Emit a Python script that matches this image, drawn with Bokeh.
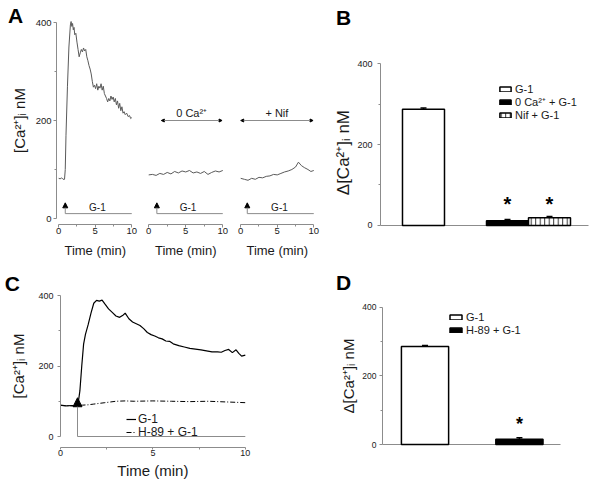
import math
from bokeh.plotting import figure
from bokeh.models import (Range1d, FixedTicker, Label, Arrow, NormalHead, TeeHead,
                          Whisker, ColumnDataSource, Legend, LegendItem, CDSView, IndexFilter)
from bokeh.layouts import row, column
from bokeh.embed import file_html
from bokeh.resources import INLINE

FONT = "Liberation Sans"
AXC = "#8c8c8c"
TXT = "#1a1a1a"
TRACE = "#5a5a5a"

# ---------------- data ----------------
# Panel A, G-1 in normal buffer
a1_time = [0.0, 0.2, 0.4, 0.6, 0.8, 0.9, 1.0, 1.2, 1.4, 1.6, 1.7, 1.8, 1.9, 2.0, 2.1, 2.2,
           2.35, 2.5, 2.65, 2.8, 2.95, 3.1, 3.25, 3.4, 3.55, 3.7, 3.85, 4.0, 4.15, 4.3, 4.45,
           4.6, 4.75, 4.9, 5.05, 5.2, 5.35, 5.5, 5.65, 5.8, 5.95, 6.1, 6.25, 6.4, 6.55, 6.7,
           6.85, 7.0, 7.15, 7.3, 7.45, 7.6, 7.75, 7.9, 8.05, 8.2, 8.35, 8.5, 8.65, 8.8, 8.95,
           9.1, 9.3, 9.5, 9.7, 9.85, 10.0]
a1_ca = [82, 81, 83, 80, 80, 100, 170, 270, 350, 395, 402, 392, 398, 385, 390, 375,
         378, 360, 345, 330, 338, 345, 340, 348, 342, 345, 330, 322, 312, 305, 295,
         280, 268, 272, 265, 275, 262, 270, 266, 275, 262, 270, 255, 250, 245, 238,
         245, 240, 250, 243, 248, 238, 245, 232, 240, 225, 235, 220, 228, 215, 218,
         212, 215, 208, 210, 204, 206]
# Panel A, 0 Ca2+
a2_time = [0, 0.5, 1, 1.5, 2, 2.5, 3, 3.5, 4, 4.5, 5, 5.5, 6, 6.5, 7, 7.5, 8, 8.5, 9, 9.5, 10]
a2_ca = [89, 90, 88, 92, 90, 94, 91, 96, 93, 97, 95, 98, 93, 95, 92, 96, 90, 94, 97, 95, 98]
# Panel A, + Nif
a3_time = [0, 0.5, 1, 1.5, 2, 2.5, 3, 3.5, 4, 4.5, 5, 5.5, 6, 6.5, 7, 7.5, 7.9, 8.3, 8.7,
           9.2, 9.6, 10]
a3_ca = [82, 80, 78, 82, 80, 84, 83, 86, 87, 90, 89, 92, 95, 97, 100, 105, 115, 108, 104,
         100, 96, 98]
a_g1_onset = [0.9, 1.1, 0.9]
a_cond_labels = ["0 Ca\u00b2\u207a", "+ Nif"]
a_cond_start = [1.7, 0.0]
a_cond_end = [9.9, 9.9]

# Panel B
b_labels = ["G-1", "0 Ca\u00b2\u207a + G-1", "Nif + G-1"]
b_mean = [287, 12, 19]
b_sem = [3, 3, 3]
b_sig = [False, True, True]

# Panel C
c_time_g1 = [0, 0.3, 0.6, 0.8, 0.95, 1.05, 1.15, 1.25, 1.35, 1.5, 1.65, 1.8, 1.95, 2.1, 2.25,
             2.4, 2.6, 2.8, 3.0, 3.2, 3.4, 3.5, 3.7, 3.9, 4.1, 4.3, 4.5, 4.7, 4.9, 5.1, 5.3,
             5.5, 5.7, 5.9, 6.1, 6.4, 6.7, 7.0, 7.3, 7.6, 7.9, 8.2, 8.5, 8.7, 8.9, 9.1, 9.3,
             9.5, 9.65, 9.8, 10.0]
c_g1 = [89, 87, 88, 87, 92, 130, 200, 262, 290, 318, 350, 378, 386, 384, 387,
        376, 362, 352, 342, 338, 345, 350, 334, 325, 320, 315, 306, 295, 289, 285, 280,
        277, 271, 270, 263, 258, 254, 250, 248, 246, 243, 240, 240, 239, 244, 247, 238,
        246, 236, 228, 231]
c_time_h89 = [0, 0.5, 0.9, 1.2, 1.5, 1.8, 2.1, 2.4, 2.7, 3.0, 3.5, 4.0, 5.0, 6.0, 7.0, 8.0,
              9.0, 9.5, 10.0]
c_h89 = [88, 87, 88, 89, 90, 92, 94, 96, 98, 100, 101, 100, 101, 100, 99, 100, 98, 97, 96]
c_labels = ["G-1", "H-89 + G-1"]
c_g1_onset = 0.92

# Panel D
d_labels = ["G-1", "H-89 + G-1"]
d_mean = [286, 15]
d_sem = [3, 5]
d_sig = [False, True]

x_ticks, x_minor = [0, 5, 10], [2.5, 7.5]
y_ticks, y_minor = [0, 200, 400], [100, 300]
TIME_LABEL = "Time (min)"
CA_LABEL = "[Ca\u00b2\u207a]\u1d62 nM"
DCA_LABEL = "\u0394[Ca\u00b2\u207a]\u1d62 nM"


# ---------------- helpers ----------------
def make_fig(width, height, x_range, y_range, y_axis=True):
    p = figure(width=width, height=height, x_range=Range1d(*x_range), y_range=Range1d(*y_range),
               min_border_left=0, min_border_right=0, min_border_top=0, min_border_bottom=0,
               title=None, output_backend="svg", toolbar_location=None, tools="",
               y_axis_location="left" if y_axis else None)
    p.outline_line_color = None
    p.grid.visible = False
    return p


def style_axis(ax, ticks, minor, bounds, fixed, tick_size, label=None, label_size="15px",
               tick_out=3, label_standoff=3, axis_label_standoff=5):
    ax.ticker = FixedTicker(ticks=ticks, minor_ticks=minor)
    ax.fixed_location = fixed
    if bounds is not None:
        ax.bounds = bounds
    ax.axis_line_color = AXC
    ax.major_tick_line_color = AXC
    ax.minor_tick_line_color = AXC
    ax.major_tick_in = 0
    ax.major_tick_out = tick_out
    ax.minor_tick_in = 0
    ax.minor_tick_out = 2
    ax.major_label_text_font = FONT
    ax.major_label_text_font_size = tick_size
    ax.major_label_text_color = TXT
    ax.major_label_standoff = label_standoff
    if label:
        ax.axis_label = label
    ax.axis_label_text_font = FONT
    ax.axis_label_text_font_size = label_size
    ax.axis_label_text_font_style = "normal"
    ax.axis_label_text_color = TXT
    ax.axis_label_standoff = axis_label_standoff


def text(p, x, y, txt, size, bold=False, angle=0.0, color=TXT):
    p.add_layout(Label(x=x, y=y, text=txt, text_font=FONT, text_font_size=size,
                       text_font_style="bold" if bold else "normal", angle=angle,
                       text_align="center", text_baseline="middle", text_color=color))


def legend_rows(p, renderers, labels, x, ys, font_size, glyph_w, glyph_h, standoff):
    for r, lab, y in zip(renderers, labels, ys):
        p.add_layout(Legend(items=[LegendItem(label=lab, renderers=[r])], location=(x, y),
                            border_line_color=None, background_fill_alpha=0, padding=0,
                            margin=0, spacing=0, glyph_width=glyph_w, glyph_height=glyph_h,
                            label_standoff=standoff, label_text_font=FONT,
                            label_text_font_size=font_size, label_height=20,
                            label_text_color=TXT))


ROW1_H, ROW2_H = 258, 228

# ---------------- Panel A ----------------
a_traces = [(a1_time, a1_ca), (a2_time, a2_ca), (a3_time, a3_ca)]
a_specs = [(138, (-7.96, 10.92)), (92, (-1.377, 11.04)), (100, (-1.395, 12.285))]
a_figs = []
for i, ((t, v), (w, xr)) in enumerate(zip(a_traces, a_specs)):
    p = make_fig(w, ROW1_H, xr, (-81.6, 444.9), y_axis=(i == 0))
    style_axis(p.xaxis[0], x_ticks, x_minor, (0, 10), -12.24, "9.5px",
               tick_out=3, label_standoff=0)
    if i == 0:
        style_axis(p.yaxis[0], y_ticks, y_minor, (0, 400), -0.3, "9.5px", label=CA_LABEL,
                   label_size="15px", tick_out=3, label_standoff=2, axis_label_standoff=5)
    p.line(t, v, line_color=TRACE, line_width=1)
    onset = a_g1_onset[i]
    p.add_layout(Arrow(x_start=onset, y_start=10, x_end=onset, y_end=32, line_color=AXC,
                       line_width=1, end=NormalHead(size=5, fill_color="black",
                                                    line_color="black", line_width=1)))
    p.add_layout(Arrow(x_start=onset, y_start=10, x_end=10, y_end=10, line_color=AXC,
                       line_width=1, end=None))
    text(p, 5.3, 22, "G-1", "10px")
    text(p, 5, -65.3, TIME_LABEL, "13px")
    if i > 0:
        s, e = a_cond_start[i - 1], a_cond_end[i - 1]
        p.add_layout(Arrow(x_start=s, y_start=200, x_end=e, y_end=200, line_color=AXC,
                           line_width=1,
                           start=NormalHead(size=3, fill_color="black", line_color="black"),
                           end=NormalHead(size=3, fill_color="black", line_color="black")))
        text(p, (s + e) / 2, 216, a_cond_labels[i - 1], "11px")
    a_figs.append(p)
text(a_figs[0], -5.91, 414, "A", "21px", bold=True, color="black")

# ---------------- Panel B ----------------
b_pos = [1, 3, 4]
pB = make_fig(266, ROW1_H, (-1.214, 5.119), (-81.5, 555.6))
style_axis(pB.yaxis[0], y_ticks, y_minor, (0, 400), -0.024, "9px",
           tick_out=3, label_standoff=5)
style_axis(pB.xaxis[0], [], [], (-0.024, 4.93), 0, "9px")
pB.xaxis[0].level = "underlay"
src_b = ColumnDataSource(dict(x=b_pos, top=b_mean,
                              upper=[m + s for m, s in zip(b_mean, b_sem)]))
b_styles = [dict(fill_color="white"), dict(fill_color="black"),
            dict(fill_color="white", hatch_pattern="vertical_line", hatch_color="black",
                 hatch_scale=4.5, hatch_weight=0.8)]
b_bars = []
for i, st in enumerate(b_styles):
    r = pB.vbar(x="x", top="top", bottom=0, width=1.0, source=src_b,
                view=CDSView(filter=IndexFilter([i])), line_color="black", line_width=1.5, **st)
    b_bars.append(r)
pB.add_layout(Whisker(source=src_b, base="x", lower="top", upper="upper", line_color="black",
                      line_width=1.5, upper_head=TeeHead(size=6, line_color="black",
                                                         line_width=1.5), lower_head=None))
for i, sg in enumerate(b_sig):
    if sg:
        text(pB, b_pos[i], 54.3, "*", "20px", bold=True, color="black")
legend_rows(pB, b_bars, b_labels, 168, [159.5, 146.5, 133.5], "11px", 14, 6, 3)
text(pB, -0.905, 180, DCA_LABEL, "17px", angle=math.pi / 2)
text(pB, -0.905, 513.6, "B", "21px", bold=True, color="black")

# ---------------- Panel C ----------------
pC = make_fig(300, ROW2_H, (-3.247, 12.987), (-141.8, 505))
style_axis(pC.xaxis[0], x_ticks, x_minor, (0, 10), -31.2, "9px",
           tick_out=2, label_standoff=0)
style_axis(pC.yaxis[0], y_ticks, y_minor, (0, 400), 0, "9px", label=CA_LABEL,
           label_size="15px", tick_out=3, label_standoff=4, axis_label_standoff=8)
rc1 = pC.line(c_time_g1, c_g1, line_color="black", line_width=1.2)
rc2 = pC.line(c_time_h89, c_h89, line_color="black", line_width=1, line_dash="5 2 1 2")
pC.add_layout(Arrow(x_start=c_g1_onset, y_start=0, x_end=c_g1_onset, y_end=110,
                    line_color=AXC, line_width=1,
                    end=NormalHead(size=9, fill_color="black", line_color="black")))
pC.add_layout(Arrow(x_start=c_g1_onset, y_start=0, x_end=10, y_end=0, line_color=AXC,
                    line_width=1, end=None))
legend_rows(pC, [rc1, rc2], c_labels, 126, [57, 44], "12px", 10, 12, 2)
text(pC, 5, -96.5, TIME_LABEL, "15px")
text(pC, -2.6, 434, "C", "21px", bold=True, color="black")

# ---------------- Panel D ----------------
d_pos = [1, 3]
pD = make_fig(296, ROW2_H, (-1.638, 4.633), (-122.6, 543))
style_axis(pD.yaxis[0], y_ticks, y_minor, (0, 400), 0.099, "8.5px", label=DCA_LABEL,
           label_size="15px", tick_out=3, label_standoff=3, axis_label_standoff=2)
style_axis(pD.xaxis[0], [], [], (0.099, 3.87), 0, "9px")
pD.xaxis[0].level = "underlay"
src_d = ColumnDataSource(dict(x=d_pos, top=d_mean,
                              upper=[m + s for m, s in zip(d_mean, d_sem)]))
d_styles = [dict(fill_color="white"), dict(fill_color="black")]
d_bars = []
for i, st in enumerate(d_styles):
    r = pD.vbar(x="x", top="top", bottom=0, width=1.0, source=src_d,
                view=CDSView(filter=IndexFilter([i])), line_color="black", line_width=1.5, **st)
    d_bars.append(r)
pD.add_layout(Whisker(source=src_d, base="x", lower="top", upper="upper", line_color="black",
                      line_width=1.5, upper_head=TeeHead(size=6, line_color="black",
                                                         line_width=1.5), lower_head=None))
for i, sg in enumerate(d_sig):
    if sg:
        text(pD, d_pos[i], 61.3, "*", "18px", bold=True, color="black")
legend_rows(pD, d_bars, d_labels, 148, [159, 146], "11px", 15, 6, 3)
text(pD, -0.727, 473, "D", "21px", bold=True, color="black")

layout = column(row(*a_figs, pB), row(pC, pD))
open("out.html", "w").write(file_html(layout, INLINE, title="Ca2+ responses"))
